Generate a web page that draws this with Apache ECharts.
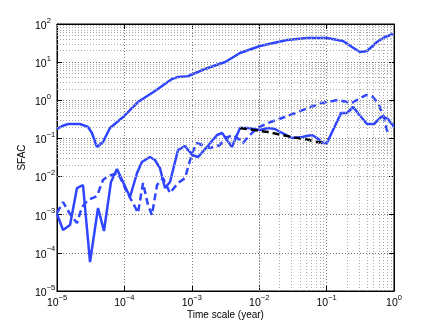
<!DOCTYPE html>
<html><head><meta charset="utf-8">
<script src="https://cdn.jsdelivr.net/npm/echarts@6/dist/echarts.min.js"></script>
<style>html,body{margin:0;padding:0;background:#fff}#c{width:436px;height:327px}</style>
</head><body><div id="c"></div>
<script>
// Upper solid blue curve [time scale (year), SFAC]
const upperSolid = [[1e-5,0.177],[1.19e-5,0.212],[1.46e-5,0.239],[2.19e-5,0.239],[2.88e-5,0.2],[3.3e-5,0.139],[3.92e-5,0.0596],[4.81e-5,0.0805],[6.11e-5,0.187],[9.2e-5,0.343],[1.59e-4,0.9],[2.84e-4,1.75],[5.08e-4,3.6],[6.24e-4,4.1],[8.79e-4,4.3],[1.57e-3,6.6],[3.13e-3,10.1],[5.19e-3,17.4],[1.03e-2,26.5],[2.58e-2,38],[5.12e-2,43],[0.101,43],[0.175,35.8],[0.238,25],[0.313,18.5],[0.397,19.6],[0.56,33.7],[0.735,45.6],[0.966,54.7]];
// Lower solid blue curve
const lowerSolid = [[1e-5,1.04e-3],[1.23e-5,3.97e-4],[1.56e-5,5.37e-4],[1.98e-5,5.01e-3],[2.43e-5,6.01e-3],[3.09e-5,5.75e-5],[4.06e-5,1.5e-3],[4.98e-5,3.74e-4],[6.32e-5,7.19e-3],[7.76e-5,1.58e-2],[1.21e-4,2.91e-3],[1.54e-4,1.24e-2],[1.82e-4,2.41e-2],[2.4e-4,3.26e-2],[2.84e-4,2.72e-2],[3.37e-4,1.67e-2],[4.0e-4,5.01e-3],[4.75e-4,7.19e-3],[6.24e-4,4.97e-2],[7.93e-4,6.32e-2],[1.01e-3,3.67e-2],[1.24e-3,3.26e-2],[1.68e-3,5.96e-2],[2.37e-3,0.123],[2.81e-3,0.139],[3.94e-3,5.96e-2],[5.19e-3,0.187],[6.82e-3,0.187],[1.03e-2,0.166],[1.35e-2,0.187],[1.71e-2,0.177],[2.18e-2,0.139],[3.07e-2,0.1026],[4.32e-2,0.109],[6.07e-2,0.123],[7.21e-2,0.1026],[8.85e-2,7.59e-2],[0.101,7.59e-2],[0.164,0.463],[0.201,0.463],[0.247,0.667],[0.335,0.343],[0.397,0.239],[0.505,0.239],[0.664,0.387],[0.815,0.323],[1.0,0.199]];
// Dashed blue curve
const dashedBlue = [[1e-5,1.11e-3],[1.23e-5,2.15e-3],[1.56e-5,1.04e-3],[1.98e-5,6.05e-4],[2.35e-5,1.59e-3],[2.88e-5,2.43e-3],[3.92e-5,3.09e-3],[4.81e-5,8.13e-3],[5.71e-5,1.03e-2],[8.04e-5,1.24e-2],[1.09e-4,3.94e-3],[1.44e-4,1.59e-3],[1.59e-4,1.11e-3],[1.89e-4,6.78e-3],[2.24e-4,1.79e-3],[2.56e-4,9.8e-4],[3.05e-4,6.01e-3],[3.74e-4,9.16e-3],[4.75e-4,3.71e-3],[6.24e-4,6.78e-3],[7.93e-4,9.16e-3],[1.01e-3,4.15e-2],[1.19e-3,7.59e-2],[1.86e-3,5.61e-2],[2.62e-3,6.71e-2],[3.13e-3,0.1026],[4.08e-3,0.123],[5.19e-3,9.1e-2],[5.75e-3,7.59e-2],[6.82e-3,0.109],[9.27e-3,0.187],[1.35e-2,0.254],[2.18e-2,0.343],[3.4e-2,0.463],[5.3e-2,0.628],[8.55e-2,0.849],[0.148,1.02],[0.238,0.849],[0.313,1.15],[0.385,1.37],[0.472,1.29],[0.579,0.849],[0.687,0.411],[0.815,0.131]];
// Black dashed segment
const blackDashed = [[5.19e-3,0.187],[1.35e-2,0.147],[3.4e-2,0.105],[5.3e-2,0.092],[8.55e-2,0.076]];
// Axis ranges (decades)
const xDecades = [-5, 0];
const yDecades = [-5, 2];
const xName = 'Time scale (year)';
const yName = 'SFAC';

const FONT = 'Liberation Sans';
const BLUE = '#2f45ff';
const minorX = [], minorY = [];
for (let e = xDecades[0]; e < xDecades[1]; e++) for (let k = 2; k <= 9; k++) minorX.push({xAxis: k * Math.pow(10, e)});
for (let e = yDecades[0]; e < yDecades[1]; e++) for (let k = 2; k <= 9; k++) minorY.push({yAxis: k * Math.pow(10, e)});

function fmt(v) {
  const e = Math.round(Math.log10(v));
  return '{b|10}{s|' + (e < 0 ? '\u2212' + (-e) : String(e)) + '}';
}
const rich = {
  b: {fontSize: 10.5, fontFamily: FONT, color: '#000', lineHeight: 15, verticalAlign: 'bottom'},
  s: {fontSize: 7.5, fontFamily: FONT, color: '#000', lineHeight: 15, verticalAlign: 'top'}
};
const gridLine = {show: true, lineStyle: {color: '#777', type: [1, 2], width: 1}};
const xmin = Math.pow(10, xDecades[0]), xmax = Math.pow(10, xDecades[1]);
const ymin = Math.pow(10, yDecades[0]), ymax = Math.pow(10, yDecades[1]);

const chart = echarts.init(document.getElementById('c'), null, {renderer: 'canvas'});
chart.setOption({
  animation: false,
  backgroundColor: '#fff',
  grid: {left: 57, right: 42, top: 24, bottom: 36, show: true, borderColor: '#000', borderWidth: 1},
  xAxis: [{
    type: 'log', logBase: 10, min: xmin, max: xmax, splitNumber: 5,
    name: xName, nameLocation: 'middle', nameGap: 19, nameMoveOverlap: false,
    nameTextStyle: {fontSize: 10, fontFamily: FONT, color: '#000'},
    axisLine: {show: true, lineStyle: {color: '#000', width: 1}},
    axisTick: {show: true, inside: true, length: 5, lineStyle: {color: '#000'}},
    axisLabel: {formatter: fmt, rich: rich, margin: 3},
    splitLine: gridLine
  }, {
    type: 'log', logBase: 10, min: xmin, max: xmax, splitNumber: 5, position: 'top',
    axisLine: {show: true, lineStyle: {color: '#000'}},
    axisTick: {show: true, inside: true, length: 5, lineStyle: {color: '#000'}},
    axisLabel: {show: false}, splitLine: {show: false}
  }],
  yAxis: [{
    type: 'log', logBase: 10, min: ymin, max: ymax, splitNumber: 7,
    name: yName, nameLocation: 'middle', nameGap: 30, nameMoveOverlap: false,
    nameTextStyle: {fontSize: 10, fontFamily: FONT, color: '#000'},
    axisLine: {show: true, lineStyle: {color: '#000', width: 1}},
    axisTick: {show: true, inside: true, length: 5, lineStyle: {color: '#000'}},
    axisLabel: {formatter: fmt, rich: rich, margin: 22, align: 'left'},
    splitLine: gridLine
  }, {
    type: 'log', logBase: 10, min: ymin, max: ymax, splitNumber: 7, position: 'right',
    axisLine: {show: true, lineStyle: {color: '#000'}},
    axisTick: {show: true, inside: true, length: 5, lineStyle: {color: '#000'}},
    axisLabel: {show: false}, splitLine: {show: false}
  }],
  series: [
    {type: 'line', data: [], z: 1, silent: true,
     markLine: {silent: true, symbol: ['none', 'none'], label: {show: false}, animation: false,
       lineStyle: {color: '#aaa', type: [1, 2], width: 1}, emphasis: {disabled: true},
       data: minorX.concat(minorY)}},
    {type: 'line', data: upperSolid, showSymbol: false, symbol: 'none', z: 3,
     lineStyle: {color: BLUE, width: 2.5}},
    {type: 'line', data: lowerSolid, showSymbol: false, symbol: 'none', z: 3,
     lineStyle: {color: BLUE, width: 2.5}},
    {type: 'line', data: dashedBlue, showSymbol: false, symbol: 'none', z: 3,
     lineStyle: {color: BLUE, width: 2.5, type: [7, 4]}},
    {type: 'line', data: blackDashed, showSymbol: false, symbol: 'none', z: 4,
     lineStyle: {color: '#000', width: 2.5, type: [7, 4]}}
  ]
});
</script>
</body></html>
